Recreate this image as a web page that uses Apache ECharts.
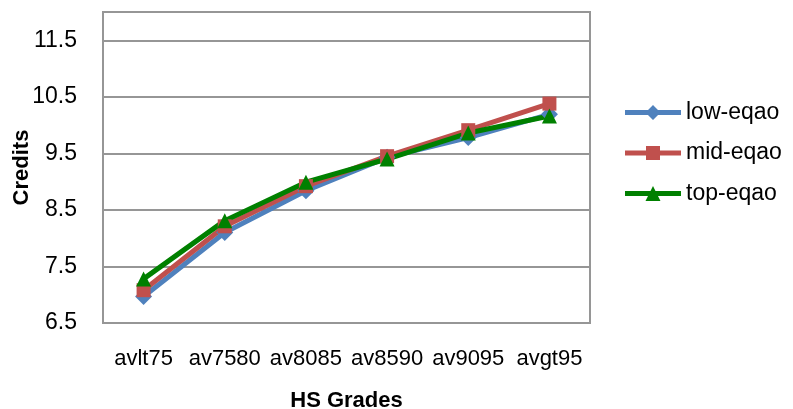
<!DOCTYPE html>
<html>
<head>
<meta charset="utf-8">
<script src="https://cdn.jsdelivr.net/npm/echarts@6/dist/echarts.min.js"></script>
<style>
html,body{margin:0;padding:0;background:#fff;}
#chart{width:793px;height:409px;}
</style>
</head>
<body>
<div id="chart"></div>
<script>
var categories = ['avlt75', 'av7580', 'av8085', 'av8590', 'av9095', 'avgt95'];
var lowEqao = [6.97, 8.10, 8.84, 9.43, 9.78, 10.19];
var midEqao = [7.08, 8.21, 8.92, 9.45, 9.91, 10.38];
var topEqao = [7.28, 8.31, 8.99, 9.40, 9.86, 10.16];
var seriesNames = ['low-eqao', 'mid-eqao', 'top-eqao'];
var yMin = 6.5, yMax = 12, yStep = 1;

var FONT = 'Liberation Sans';
var chart = echarts.init(document.getElementById('chart'), null, {renderer: 'canvas'});

// legend icons: thick line segment with the series marker in the middle
var BAR = 'M0 5 L56 5 L56 10 L0 10 Z ';
var icons = [
  'path://' + BAR + 'M28 0 L35.5 7.5 L28 15 L20.5 7.5 Z',
  'path://' + BAR + 'M21 0.5 L35 0.5 L35 14.5 L21 14.5 Z M0 0 L0 0 M0 15 L0 15',
  'path://' + BAR + 'M28 0 L35.5 15 L20.5 15 Z'
];

function mk(name, data, color, symbol, size) {
  return {
    name: name, type: 'line', data: data,
    symbol: symbol, symbolSize: size,
    lineStyle: {color: color, width: 5},
    itemStyle: {color: color},
    emphasis: {disabled: true},
    animation: false
  };
}

chart.setOption({
  animation: false,
  textStyle: {fontFamily: FONT, color: '#000'},
  grid: {left: 103, right: 203, top: 12, bottom: 86, show: true, borderColor: '#969696', borderWidth: 2, outerBoundsMode: 'none'},
  legend: {
    orient: 'vertical', left: 620, top: 96,
    itemWidth: 56, itemHeight: 15, itemGap: 17.5,
    textStyle: {fontFamily: FONT, fontSize: 23, color: '#000'},
    data: seriesNames.map(function (n, i) { return {name: n, icon: icons[i]}; })
  },
  xAxis: {
    type: 'category', data: categories, boundaryGap: true,
    name: 'HS Grades', nameLocation: 'middle', nameGap: 67,
    nameTextStyle: {fontFamily: FONT, fontSize: 22, fontWeight: 'bold', color: '#000'},
    axisLine: {show: true, lineStyle: {color: '#969696', width: 2}},
    axisTick: {show: false},
    axisLabel: {interval: 0, margin: 25, fontFamily: FONT, fontSize: 22, color: '#000'},
    splitLine: {show: false}
  },
  yAxis: {
    type: 'value', min: yMin, max: yMax, interval: yStep,
    name: 'Credits', nameLocation: 'middle', nameGap: 70, nameRotate: 90, nameMoveOverlap: false,
    nameTextStyle: {fontFamily: FONT, fontSize: 22, fontWeight: 'bold', color: '#000'},
    axisLine: {show: true, lineStyle: {color: '#969696', width: 2}},
    axisTick: {show: false},
    axisLabel: {margin: 26, fontFamily: FONT, fontSize: 23, color: '#000', showMaxLabel: false,
      formatter: function (v) { return v.toFixed(1); }},
    splitLine: {show: true, lineStyle: {color: '#969696', width: 2}}
  },
  series: [
    mk(seriesNames[0], lowEqao, '#4F81BD', 'diamond', 17),
    mk(seriesNames[1], midEqao, '#C0504D', 'rect', 14),
    mk(seriesNames[2], topEqao, '#008000', 'triangle', 15)
  ]
});
</script>
</body>
</html>
